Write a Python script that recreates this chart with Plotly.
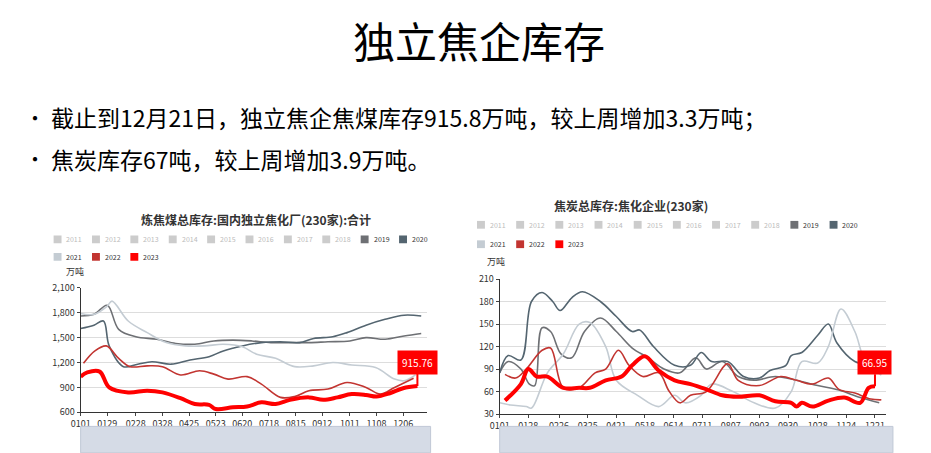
import plotly.graph_objects as go

# ---- left chart: coking coal stock (万吨), x = day of year ----
coal_2019_x = [0, 14, 28, 40, 58, 80, 100, 120, 140, 160, 180, 200, 220, 240, 260, 283, 300, 320, 340, 358]
coal_2019_y = [1760, 1780, 1890, 1600, 1510, 1480, 1430, 1420, 1460, 1470, 1460, 1440, 1440, 1440, 1450, 1460, 1500, 1480, 1520, 1550]
coal_2020_x = [0, 14, 24, 30, 45, 60, 75, 95, 115, 135, 150, 170, 190, 210, 230, 245, 265, 280, 300, 320, 340, 358]
coal_2020_y = [1610, 1650, 1700, 1400, 1150, 1180, 1210, 1180, 1230, 1270, 1340, 1400, 1440, 1450, 1440, 1490, 1510, 1560, 1650, 1720, 1770, 1760]
coal_2021_x = [0, 14, 28, 33, 50, 70, 90, 110, 130, 150, 170, 185, 205, 225, 245, 265, 285, 310, 330, 340, 352]
coal_2021_y = [1790, 1780, 1880, 1940, 1700, 1560, 1440, 1400, 1400, 1420, 1390, 1300, 1250, 1150, 1160, 1200, 1170, 1140, 1000, 980, 1050]
coal_2022_x = [3, 15, 27, 40, 52, 70, 86, 105, 125, 140, 155, 175, 190, 210, 225, 240, 260, 280, 300, 315, 330, 350]
coal_2022_y = [1190, 1340, 1400, 1250, 1150, 1160, 1150, 1050, 1100, 1060, 1000, 1030, 940, 780, 790, 860, 880, 960, 900, 820, 900, 1010]
coal_2023_x = [0, 7, 20, 30, 50, 70, 86, 105, 120, 135, 142, 160, 175, 190, 205, 220, 240, 255, 270, 285, 300, 311, 325, 339, 354]
coal_2023_y = [1030, 1080, 1090, 900, 840, 860, 840, 770, 700, 690, 640, 660, 670, 720, 700, 750, 780, 750, 780, 820, 810, 790, 830, 890, 915.76]
coal_ticks = [0, 28, 58, 86, 114, 142, 170, 198, 226, 254, 283, 311, 339]
coal_labels = ["0101", "0129", "0228", "0328", "0425", "0523", "0620", "0718", "0815", "0912", "1011", "1108", "1206"]

# ---- right chart: coke stock (万吨) ----
coke_2019_x = [0, 8, 20, 28, 33, 40, 48, 58, 68, 80, 95, 110, 125, 140, 155, 170, 185, 195, 210, 225, 240, 260, 280, 300, 320, 340, 358]
coke_2019_y = [85, 100, 90, 70, 68, 145, 140, 110, 105, 140, 158, 140, 118, 105, 90, 85, 105, 90, 100, 80, 75, 80, 75, 68, 62, 52, 45]
coke_2020_x = [0, 8, 20, 30, 40, 50, 57, 68, 78, 95, 110, 125, 132, 145, 165, 180, 190, 200, 215, 230, 245, 255, 270, 275, 285, 300, 310, 318, 335, 345]
coke_2020_y = [85, 108, 102, 180, 192, 180, 168, 185, 193, 180, 160, 140, 142, 120, 95, 95, 112, 100, 100, 80, 78, 88, 95, 108, 112, 135, 150, 125, 100, 97]
coke_2021_x = [0, 10, 25, 30, 45, 60, 75, 85, 100, 110, 130, 150, 165, 175, 190, 200, 220, 240, 260, 275, 285, 300, 310, 322, 335, 345, 360]
coke_2021_y = [45, 42, 40, 38, 85, 110, 150, 152, 120, 75, 55, 40, 55, 45, 55, 70, 60, 45, 38, 60, 100, 98, 120, 170, 140, 100, 82]
coke_2022_x = [5, 15, 25, 40, 48, 60, 75, 90, 100, 112, 122, 135, 150, 160, 170, 180, 195, 215, 225, 245, 265, 280, 295, 310, 320, 335, 350, 360]
coke_2022_y = [83, 78, 90, 115, 118, 65, 65, 85, 90, 115, 95, 80, 85, 60, 45, 55, 60, 97, 75, 68, 80, 75, 70, 78, 63, 58, 50, 49]
coke_2023_x = [5, 20, 27, 35, 45, 60, 75, 85, 100, 115, 125, 137, 150, 165, 180, 195, 210, 225, 245, 260, 275, 280, 285, 295, 310, 325, 340, 348, 354]
coke_2023_y = [48, 70, 90, 80, 80, 65, 65, 65, 75, 80, 95, 107, 88, 75, 70, 63, 55, 53, 55, 47, 45, 40, 45, 40, 48, 52, 45, 65, 66.95]
coke_ticks = [0, 27, 56, 83, 110, 137, 164, 191, 218, 245, 272, 300, 327, 354]
coke_labels = ["0101", "0128", "0226", "0325", "0421", "0518", "0614", "0711", "0807", "0903", "0930", "1028", "1124", "1221"]

years_row1 = ["2011", "2012", "2013", "2014", "2015", "2016", "2017", "2018", "2019", "2020"]
years_row2 = ["2021", "2022", "2023"]
colors = {"2019": "#6e7074", "2020": "#546570", "2021": "#c4ccd3", "2022": "#c23531", "2023": "#ff0000"}

FONT = "Noto Sans CJK SC"
W, H = 931, 453
fig = go.Figure()


def add_chart(xa, ya, series):
    for yr, xs, ys in series:
        fig.add_trace(go.Scatter(
            x=xs, y=ys, name=yr, xaxis=xa, yaxis=ya, mode="lines", showlegend=False,
            line={"color": colors[yr], "width": 4 if yr == "2023" else 1.6, "shape": "spline"},
        ))


def add_legend(x0, y_row1, y_row2, step):
    # hand-drawn echarts-style legend: square + label
    rows = [(years_row1, y_row1), (years_row2, y_row2)]
    for names, ypx in rows:
        for i, yr in enumerate(names):
            xp = x0 + i * step
            c = colors.get(yr, "#ccc")
            txt = "#333" if yr in colors else "#bbb"
            fig.add_shape(type="rect", xref="paper", yref="paper",
                          x0=xp / W, x1=(xp + 8) / W, y0=1 - (ypx + 4) / H, y1=1 - (ypx - 4) / H,
                          fillcolor=c, line={"width": 0})
            fig.add_annotation(xref="paper", yref="paper", x=(xp + 11) / W, y=1 - ypx / H,
                               text=yr, showarrow=False, xanchor="left", yanchor="middle",
                               font={"size": 7, "color": txt})


add_chart("x", "y", [
    ("2019", coal_2019_x, coal_2019_y), ("2020", coal_2020_x, coal_2020_y),
    ("2021", coal_2021_x, coal_2021_y), ("2022", coal_2022_x, coal_2022_y),
    ("2023", coal_2023_x, coal_2023_y)])
add_chart("x2", "y2", [
    ("2019", coke_2019_x, coke_2019_y), ("2020", coke_2020_x, coke_2020_y),
    ("2021", coke_2021_x, coke_2021_y), ("2022", coke_2022_x, coke_2022_y),
    ("2023", coke_2023_x, coke_2023_y)])
add_legend(36, 231, 249, 38.8)
add_legend(464, 216, 236, 39.6)

axis_common = dict(showline=True, linecolor="#333", ticks="outside", ticklen=3, tickangle=0,
                   tickfont={"size": 9, "color": "#333"}, zeroline=False)

fig.update_layout(
    width=W, height=H, margin={"l": 0, "r": 0, "t": 0, "b": 0}, showlegend=False,
    paper_bgcolor="white", plot_bgcolor="white", font={"family": FONT},
    xaxis=dict(domain=[0.068, 0.444], range=[0, 364], tickvals=coal_ticks, ticktext=coal_labels,
               showgrid=False, anchor="y", **axis_common),
    yaxis=dict(domain=[0.097, 0.380], range=[600, 2100], dtick=300, tickformat=",",
               gridcolor="#ddd", anchor="x", **axis_common),
    xaxis2=dict(domain=[0.523, 0.942], range=[0, 364], tickvals=coke_ticks, ticktext=coke_labels,
                showgrid=False, anchor="y2", **axis_common),
    yaxis2=dict(domain=[0.093, 0.400], range=[30, 210], dtick=30,
                gridcolor="#ddd", anchor="x2", **axis_common),
)

ann = [
    dict(text="独立焦企库存", x=0.5, y=0.945, font={"size": 42, "color": "black"}),
    dict(text="•", x=0.005, y=0.768, xanchor="left", font={"size": 20, "color": "black"}),
    dict(text="截止到12月21日，独立焦企焦煤库存915.8万吨，较上周增加3.3万吨；",
         x=0.034, y=0.768, xanchor="left", font={"size": 23, "color": "black"}),
    dict(text="•", x=0.005, y=0.673, xanchor="left", font={"size": 20, "color": "black"}),
    dict(text="焦炭库存67吨，较上周增加3.9万吨。",
         x=0.034, y=0.673, xanchor="left", font={"size": 23, "color": "black"}),
    dict(text="<b>炼焦煤总库存:国内独立焦化厂(230家):合计</b>", x=0.258, y=0.536,
         font={"size": 12, "color": "#333"}),
    dict(text="<b>焦炭总库存:焦化企业(230家)</b>", x=0.666, y=0.567,
         font={"size": 12, "color": "#333"}),
    dict(text="万吨", x=0.062, y=0.417, font={"size": 9, "color": "#333"}),
    dict(text="万吨", x=0.519, y=0.439, font={"size": 9, "color": "#333"}),
]
for a in ann:
    a.setdefault("xanchor", "center")
    fig.add_annotation(xref="paper", yref="paper", showarrow=False, yanchor="middle", **a)

# value pins at the last point of 2023
for xa, ya, xs, ys in [("x", "y", coal_2023_x, coal_2023_y), ("x2", "y2", coke_2023_x, coke_2023_y)]:
    fig.add_annotation(x=xs[-1], y=ys[-1], xref=xa, yref=ya,
                       text=f"{ys[-1]:.2f}", showarrow=True, arrowcolor="red", arrowwidth=2,
                       arrowhead=0, ax=0, ay=-24, bgcolor="red", font={"size": 10, "color": "white"},
                       borderpad=4)

# data-zoom slider look-alikes
for x0, x1 in [(0.068, 0.448), (0.523, 0.95)]:
    fig.add_shape(type="rect", xref="paper", yref="paper", x0=x0, x1=x1, y0=0.005, y1=0.065,
                  fillcolor="#d5dbe6", line={"color": "#c0c8d6", "width": 1})

fig.write_html("out.html")
